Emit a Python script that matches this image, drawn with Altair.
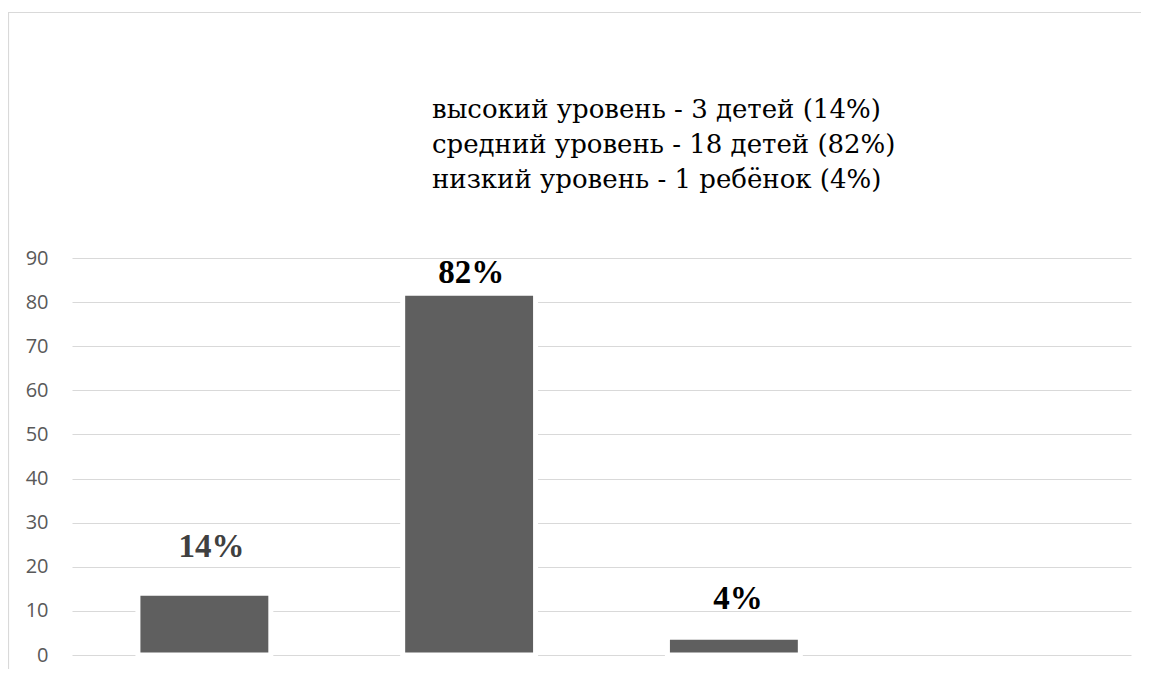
import altair as alt
import pandas as pd

# ---- data ----
categories = ["высокий", "средний", "низкий", "—"]   # 4th slot is empty in the original
values = [14, 82, 4]
labels = ["14%", "82%", "4%"]
title_lines = [
    "высокий уровень - 3 детей (14%)",
    "средний уровень - 18 детей (82%)",
    "низкий уровень - 1 ребёнок (4%)",
]
y_ticks = [0, 10, 20, 30, 40, 50, 60, 70, 80, 90]

df = pd.DataFrame({"category": categories[:3], "value": values, "label": labels})

# per-label style: colour, dx, dy (labels are placed by hand in the original)
label_style = {
    "высокий": ("#404040", 7, -36),
    "средний": ("#000000", 2, -10),
    "низкий": ("#000000", 4, -28),
}

x = alt.X(
    "category:N",
    sort=categories,
    scale=alt.Scale(domain=categories, paddingInner=0.498, paddingOuter=0.249),
    axis=None,
)
y = alt.Y(
    "value:Q",
    scale=alt.Scale(domain=[0, 90], nice=False, zero=True),
    axis=alt.Axis(
        values=y_ticks,
        title=None,
        domain=False,
        ticks=False,
        labelPadding=24,
        labelFont="Open Sans",
        labelFontSize=20,
        labelColor="#595959",
        gridColor="#d9d9d9",
        gridWidth=1.2,
    ),
)

one = alt.Data(values=[{}])

border = alt.Chart(one).mark_rect(
    fill="transparent", stroke="#d9d9d9", strokeWidth=1.2
).encode(
    x=alt.value(-63.5), x2=alt.value(1150), y=alt.value(-245.5), y2=alt.value(700)
)

bars = alt.Chart(df).mark_bar(color="#5f5f5f", stroke="white", strokeWidth=5).encode(x=x, y=y)

label_layers = []
for cat, (col, dx, dy) in label_style.items():
    label_layers.append(
        alt.Chart(df)
        .transform_filter(alt.datum.category == cat)
        .mark_text(
            font="Liberation Serif",
            fontWeight="bold",
            fontSize=33,
            color=col,
            dx=dx,
            dy=dy,
            baseline="alphabetic",
        )
        .encode(x=x, y=y, text="label:N")
    )

title_layers = []
for i, line in enumerate(title_lines):
    title_layers.append(
        alt.Chart(one).mark_text(
            align="left",
            baseline="alphabetic",
            font="DejaVu Serif",
            fontSize=26,
            color="#000000",
        ).encode(x=alt.value(360), y=alt.value(-140 + 35 * i), text=alt.value(line))
    )

chart = (
    alt.layer(border, bars, *label_layers, *title_layers)
    .properties(
        width=1059,
        height=397,
        padding={"left": 64, "top": 250, "right": 10, "bottom": 14},
        autosize=alt.AutoSizeParams(type="none"),
        background="white",
    )
    .configure_view(strokeWidth=0)
)

chart.save("out.html", embed_options={"renderer": "svg", "actions": False})
